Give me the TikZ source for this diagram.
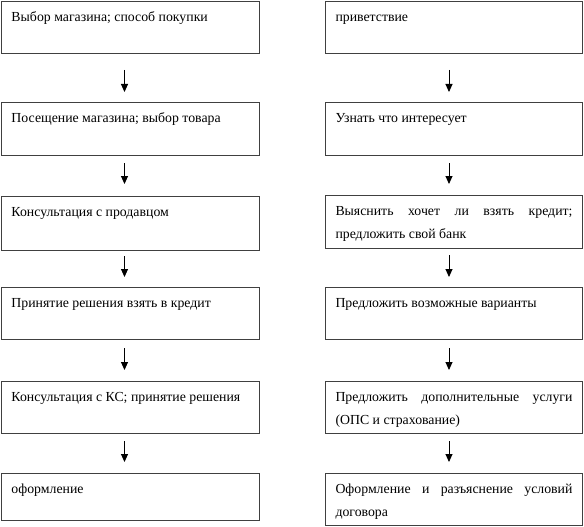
\documentclass[tikz,border=0pt]{standalone}
\usepackage{fontspec}
\setmainfont{Liberation Serif}
\usetikzlibrary{arrows.meta}
\newcommand{\boxtxt}[3]{\parbox[c][#1][t]{#2}{\baselineskip=23pt\rule{0pt}{20pt}#3}}
\tikzset{
  stepbox/.style={draw=black!75, line width=1pt, inner xsep=10pt, inner ysep=0pt, anchor=north west, font=\fontsize{13.8}{23}\selectfont},
  arr/.style={line width=0.9pt, -{Triangle[length=8pt,width=7pt]}}
}
\begin{document}
\begin{tikzpicture}[x=1pt,y=-1pt]
\useasboundingbox (0,0) rectangle (584,527);
% left column
\node[stepbox] (L1) at (1,1)   {\boxtxt{52pt}{238pt}{Выбор магазина; способ покупки}};
\node[stepbox] (L2) at (1,102) {\boxtxt{53pt}{238pt}{Посещение магазина; выбор товара}};
\node[stepbox] (L3) at (1,196) {\boxtxt{54pt}{238pt}{Консультация с продавцом}};
\node[stepbox] (L4) at (1,287) {\boxtxt{52pt}{238pt}{Принятие решения взять в кредит}};
\node[stepbox] (L5) at (1,381) {\boxtxt{52pt}{238pt}{Консультация с КС; принятие решения}};
\node[stepbox] (L6) at (1,473) {\boxtxt{47pt}{238pt}{оформление}};
% right column
\node[stepbox] (R1) at (325,1)   {\boxtxt{52pt}{237pt}{приветствие}};
\node[stepbox] (R2) at (325,102) {\boxtxt{53pt}{237pt}{Узнать что интересует}};
\node[stepbox] (R3) at (325,195) {\boxtxt{53pt}{237pt}{Выяснить хочет ли взять кредит; предложить свой банк}};
\node[stepbox] (R4) at (325,287) {\boxtxt{52pt}{237pt}{Предложить возможные варианты}};
\node[stepbox] (R5) at (325,381) {\boxtxt{52pt}{237pt}{Предложить дополнительные услуги (ОПС и страхование)}};
\node[stepbox] (R6) at (325,473) {\boxtxt{52pt}{237pt}{Оформление и разъяснение условий договора}};
% arrows left
\draw[arr] ([xshift=-6pt,yshift=-16pt]L1.south) -- ([xshift=-6pt,yshift=10pt]L2.north);
\draw[arr] ([xshift=-6pt,yshift=-7pt]L2.south) -- ([xshift=-6pt,yshift=12pt]L3.north);
\draw[arr] ([xshift=-6pt,yshift=-5pt]L3.south) -- ([xshift=-6pt,yshift=10pt]L4.north);
\draw[arr] ([xshift=-6pt,yshift=-8pt]L4.south) -- ([xshift=-6pt,yshift=11pt]L5.north);
\draw[arr] ([xshift=-6pt,yshift=-7pt]L5.south) -- ([xshift=-6pt,yshift=11pt]L6.north);
% arrows right
\draw[arr] ([xshift=-5pt,yshift=-16pt]R1.south) -- ([xshift=-5pt,yshift=10pt]R2.north);
\draw[arr] ([xshift=-5pt,yshift=-7pt]R2.south) -- ([xshift=-5pt,yshift=11pt]R3.north);
\draw[arr] ([xshift=-5pt,yshift=-6pt]R3.south) -- ([xshift=-5pt,yshift=10pt]R4.north);
\draw[arr] ([xshift=-5pt,yshift=-8pt]R4.south) -- ([xshift=-5pt,yshift=11pt]R5.north);
\draw[arr] ([xshift=-5pt,yshift=-7pt]R5.south) -- ([xshift=-5pt,yshift=11pt]R6.north);
\end{tikzpicture}
\end{document}
